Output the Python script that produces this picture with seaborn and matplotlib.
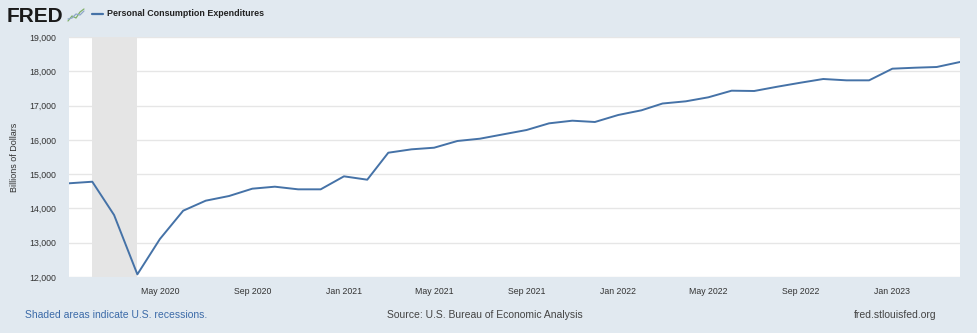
import matplotlib
matplotlib.use("Agg")
import matplotlib.pyplot as plt
import matplotlib.dates as mdates
from matplotlib.ticker import FuncFormatter, FixedLocator
from matplotlib.lines import Line2D
import seaborn as sns
import pandas as pd

months = pd.date_range("2020-01-01", "2023-04-01", freq="MS")
pce = [14733, 14779, 13808, 12077, 13108, 13934, 14226, 14362, 14576, 14634,
       14557, 14557, 14936, 14838, 15625, 15724, 15771, 15967, 16034, 16161,
       16287, 16482, 16559, 16521, 16725, 16862, 17060, 17124, 17241, 17434,
       17425, 17551, 17668, 17775, 17736, 17736, 18076, 18105, 18125, 18271]
recession_start = "2020-02-01"
recession_end = "2020-04-01"
series_name = "Personal Consumption Expenditures"
y_label = "Billions of Dollars"
y_ticks = [12000, 13000, 14000, 15000, 16000, 17000, 18000, 19000]
x_ticks = pd.date_range("2020-05-01", "2023-01-01", freq="4MS")

df = pd.DataFrame({"date": months, "value": pce})

sns.set_theme(style="white")
plt.rcParams["font.family"] = ["Liberation Sans", "DejaVu Sans"]

bg = "#e1e9f0"
W, H = 977, 333
fig = plt.figure(figsize=(W / 100, H / 100), dpi=100, facecolor=bg)
ax = fig.add_axes([69 / W, (H - 277) / H, (960 - 69) / W, (277 - 37) / H])
ax.set_facecolor("white")

ax.axvspan(pd.Timestamp(recession_start), pd.Timestamp(recession_end),
           color="#e5e5e5", zorder=1, lw=0)
sns.lineplot(data=df, x="date", y="value", ax=ax, color="#4572a7",
             linewidth=1.4, zorder=3)

ax.set_xlim(months[0], months[-1])
ax.set_ylim(12000, 19000)
ax.yaxis.set_major_locator(FixedLocator(y_ticks))
ax.yaxis.set_major_formatter(FuncFormatter(lambda v, p: f"{int(v):,}"))
ax.set_xticks(x_ticks)
ax.xaxis.set_major_formatter(mdates.DateFormatter("%b %Y"))
ax.grid(axis="y", color="#e6e6e6", linewidth=1, zorder=0)
ax.grid(axis="x", visible=False)
for s in ax.spines.values():
    s.set_visible(False)
ax.tick_params(axis="y", length=0, labelsize=6.3, colors="#333333", pad=9)
ax.tick_params(axis="x", length=6, width=0.8, color="#ccd6eb", labelsize=6.3,
               labelcolor="#333333", pad=1.5, direction="out")
ax.set_xlabel("")
ax.set_ylabel(y_label, fontsize=6.5, color="#333333")
ax.yaxis.set_label_coords((19 - 69) / 891, 0.5)

# header
fig.text(7 / W, 1 - 16 / H, "FRED", fontsize=15, fontweight="heavy",
         color="#1a1a1a", va="center", ha="left")
# small chart icon
fig.add_artist(Line2D([68 / W, 72 / W, 76 / W, 80 / W, 84 / W],
                      [1 - 21 / H, 1 - 16 / H, 1 - 18 / H, 1 - 12 / H, 1 - 9 / H],
                      color="#7fb069", lw=0.9))
fig.add_artist(Line2D([68 / W, 72 / W, 76 / W, 80 / W, 84 / W],
                      [1 - 19 / H, 1 - 18 / H, 1 - 14 / H, 1 - 15 / H, 1 - 11 / H],
                      color="#8fa8c8", lw=0.9))
fig.add_artist(Line2D([92 / W, 103 / W], [1 - 14 / H, 1 - 14 / H],
                      color="#4572a7", lw=1.6))
fig.text(107 / W, 1 - 14 / H, series_name, fontsize=6.4, fontweight="bold",
         color="#222222", va="center", ha="left")

# footer
fig.text(25 / W, 1 - 315 / H, "Shaded areas indicate U.S. recessions.",
         fontsize=7.5, color="#3b6aa8", va="center", ha="left")
fig.text(485 / W, 1 - 315 / H, "Source: U.S. Bureau of Economic Analysis",
         fontsize=7.5, color="#444444", va="center", ha="center")
fig.text(937 / W, 1 - 315 / H, "fred.stlouisfed.org",
         fontsize=7.5, color="#444444", va="center", ha="right")

fig.savefig("out.png", dpi=100, facecolor=bg)
